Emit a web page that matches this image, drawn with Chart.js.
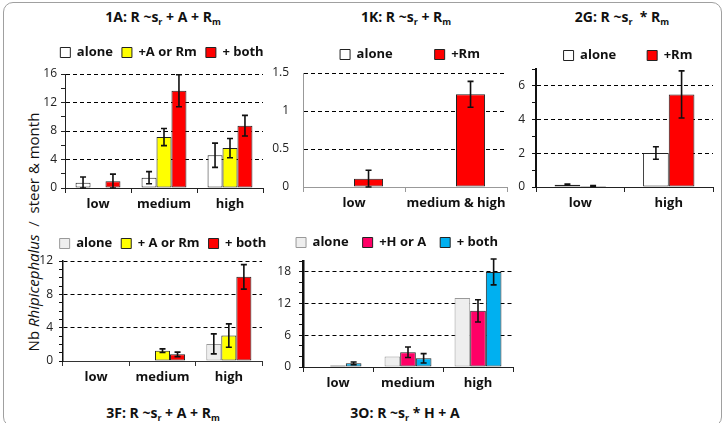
<!DOCTYPE html>
<html>
<head>
<meta charset="utf-8">
<script src="https://cdn.jsdelivr.net/npm/chart.js@4.4.1/dist/chart.umd.min.js"></script>
<style>
  body { margin: 0; background: #fff; }
  #wrap { position: relative; width: 726px; height: 423px; overflow: hidden; font-family: 'Open Sans', sans-serif; color: #111; }
  #frame { position: absolute; left: 3px; top: 2px; width: 719px; height: 425px; border: 1px solid #a0a0a0; border-radius: 10px; box-sizing: border-box; }
  canvas { position: absolute; }
  .ttl { position: absolute; width: 220px; font-weight: bold; font-size: 14px; line-height: 16px; text-align: center; white-space: nowrap; }
  .ttl sub { font-size: 9px; vertical-align: -3px; line-height: 0; }
  #ytitle { position: absolute; left: -117px; top: 222px; width: 300px; height: 20px; line-height: 20px; font-size: 15px; text-align: center; white-space: nowrap; transform: rotate(-90deg); }
</style>
</head>
<body>
<div id="wrap">
  <div id="frame"></div>
  <div id="ytitle">Nb <i>Rhipicephalus</i>&nbsp; / &nbsp;steer &amp; month</div>
  <div class="ttl" style="left:53px;top:9px">1A: R ~s<sub>r</sub> + A + R<sub>m</sub></div>
  <div class="ttl" style="left:296px;top:9px">1K: R ~s<sub>r</sub> + R<sub>m</sub></div>
  <div class="ttl" style="left:512px;top:9px">2G: R ~s<sub>r</sub>&nbsp; * R<sub>m</sub></div>
  <div class="ttl" style="left:53px;top:405px">3F: R ~s<sub>r</sub> + A + R<sub>m</sub></div>
  <div class="ttl" style="left:295px;top:405px">3O: R ~s<sub>r</sub> * H + A</div>
  <canvas id="c1A"></canvas>
  <canvas id="c1K"></canvas>
  <canvas id="c2G"></canvas>
  <canvas id="c3F"></canvas>
  <canvas id="c3O"></canvas>
</div>
<script>
// --- 1A ---
const cats1A = ['low', 'medium', 'high'];
const alone1A = [0.75, 1.45, 4.6];
const aloneErr1A = [0.8, 0.85, 1.7];
const plusA1A = [null, 7.15, 5.6];
const plusAErr1A = [null, 1.2, 1.35];
const both1A = [0.95, 13.65, 8.75];
const bothErr1A = [1.0, 2.25, 1.45];

// --- 1K ---
const cats1K = ['low', 'medium & high'];
const alone1K = [null, null];
const rm1K = [0.11, 1.22];
const rmErr1K = [0.11, 0.17];

// --- 2G ---
const cats2G = ['low', 'high'];
const alone2G = [0.14, 2.02];
const aloneErr2G = [0.04, 0.37];
const rm2G = [0.06, 5.49];
const rmErr2G = [0.03, 1.4];

// --- 3F ---
const cats3F = ['low', 'medium', 'high'];
const alone3F = [0.05, null, 2.05];
const aloneErr3F = [null, null, 1.2];
const plusA3F = [null, 1.24, 3.05];
const plusAErr3F = [null, 0.22, 1.4];
const both3F = [null, 0.8, 10.1];
const bothErr3F = [null, 0.27, 1.47];

// --- 3O ---
const cats3O = ['low', 'medium', 'high'];
const alone3O = [0.1, 2.0, 13.0];
const plusH3O = [0.3, 2.78, 10.6];
const plusHErr3O = [null, 1.0, 2.1];
const both3O = [0.7, 1.64, 17.94];
const bothErr3O = [0.25, 0.88, 2.45];

Chart.defaults.font.family = "'Open Sans', sans-serif";
Chart.defaults.color = '#222';

// error bars drawn from the y scale of each chart
const errorBars = {
  id: 'errorBars',
  afterDatasetsDraw(chart) {
    const ctx = chart.ctx;
    const y = chart.scales.y;
    chart.data.datasets.forEach((ds, di) => {
      if (!ds.errors) return;
      const meta = chart.getDatasetMeta(di);
      meta.data.forEach((bar, i) => {
        const v = ds.data[i], e = ds.errors[i];
        if (v == null || e == null) return;
        const top = y.getPixelForValue(v + e);
        const bot = y.getPixelForValue(Math.max(v - e, 0));
        ctx.save();
        ctx.strokeStyle = '#111';
        ctx.lineWidth = 1.6;
        ctx.beginPath();
        ctx.moveTo(bar.x, top); ctx.lineTo(bar.x, bot);
        ctx.moveTo(bar.x - 3, top); ctx.lineTo(bar.x + 3, top);
        ctx.moveTo(bar.x - 3, bot); ctx.lineTo(bar.x + 3, bot);
        ctx.stroke();
        ctx.restore();
      });
    });
  }
};

function drawPanel(id, pos, labels, sets, ax) {
  const f = 13;
  const yw = 45;
  // an empty right axis shifts the legend centre without moving the plot
  const wR = Math.max(yw + 2 * pos.legendX - pos.left - pos.right, 4);
  const L = pos.left - yw;
  const W = pos.right + wR - L;
  const T = Math.round(pos.legendY - pos.gap - f / 2);
  const H = pos.bottom + 30 - T;
  const legendH = f + pos.gap + 10;
  const extra = pos.top - (T + legendH);

  const cv = document.getElementById(id);
  cv.width = W; cv.height = H;
  cv.style.left = L + 'px';
  cv.style.top = T + 'px';

  const isMajor = v => Math.abs(v / ax.major - Math.round(v / ax.major)) < 1e-6;

  new Chart(cv, {
    type: 'bar',
    data: {
      labels: labels,
      datasets: sets.map(s => ({
        label: s.label,
        data: s.data,
        errors: s.errors,
        backgroundColor: s.color,
        borderColor: s.border || '#222',
        borderWidth: 1,
        borderSkipped: false,
        barPercentage: 1,
        categoryPercentage: pos.catPct
      }))
    },
    options: {
      responsive: false,
      animation: false,
      events: [],
      layout: { padding: 0 },
      plugins: {
        tooltip: { enabled: false },
        legend: {
          position: 'top',
          maxHeight: extra < 0 ? legendH + extra : undefined,
          labels: { boxWidth: 10, boxHeight: 10, padding: pos.gap, color: '#111', font: { size: f, weight: 'bold' } }
        },
        subtitle: {
          display: extra >= 1,
          text: '',
          weight: 500,
          font: { size: 1, lineHeight: 1 },
          padding: { top: 0, bottom: Math.max(extra - 1, 0) }
        }
      },
      scales: {
        x: {
          afterFit: s => { s.height = 30; },
          border: { color: ax.xColor, width: 1 },
          grid: { drawOnChartArea: false, drawTicks: true, tickLength: 5, tickColor: ax.xColor, color: ax.xColor },
          ticks: { font: { size: 13, weight: 'bold' }, color: '#111', padding: 3, maxRotation: 0, autoSkip: false }
        },
        y: {
          min: 0,
          max: ax.max,
          afterFit: s => { s.width = yw; },
          border: { color: ax.color, width: ax.width, dash: [4, 3] },
          grid: {
            drawTicks: ax.tickLen > 0,
            tickLength: ax.tickLen,
            tickColor: ax.color,
            tickWidth: 1,
            lineWidth: 1,
            color: c => (c.tick && c.tick.value > 0 && isMajor(c.tick.value)) ? '#000' : 'rgba(0,0,0,0)'
          },
          ticks: {
            stepSize: ax.step,
            autoSkip: false,
            padding: ax.pad,
            color: '#222',
            font: { size: 12 },
            callback: v => isMajor(v) ? String(v) : ''
          }
        },
        yPad: {
          type: 'linear',
          position: 'right',
          afterFit: s => { s.width = wR; },
          border: { display: false },
          grid: { display: false },
          ticks: { display: false }
        }
      }
    },
    plugins: [errorBars]
  });
}

drawPanel('c1A',
  { left: 65, right: 263, top: 74, bottom: 188, legendX: 162, legendY: 52, gap: 9, catPct: 0.68 },
  cats1A,
  [
    { label: 'alone', data: alone1A, errors: aloneErr1A, color: '#ffffff' },
    { label: '+A or Rm', data: plusA1A, errors: plusAErr1A, color: '#ffff00' },
    { label: '+ both', data: both1A, errors: bothErr1A, color: '#ff0000' }
  ],
  { max: 16, step: 2, major: 4, color: '#222', width: 1, tickLen: 4, pad: 4, xColor: '#222' });

drawPanel('c1K',
  { left: 303, right: 507, top: 73, bottom: 187, legendX: 410, legendY: 54, gap: 42, catPct: 0.57 },
  cats1K,
  [
    { label: 'alone', data: alone1K, color: '#ffffff' },
    { label: '+Rm', data: rm1K, errors: rmErr1K, color: '#ff0000' }
  ],
  { max: 1.5, step: 0.5, major: 0.5, color: '#999', width: 1, tickLen: 0, pad: 14, xColor: '#999' });

drawPanel('c2G',
  { left: 536, right: 713, top: 69, bottom: 187, legendX: 628, legendY: 55, gap: 31, catPct: 0.58 },
  cats2G,
  [
    { label: 'alone', data: alone2G, errors: aloneErr2G, color: '#ffffff' },
    { label: '+Rm', data: rm2G, errors: rmErr2G, color: '#ff0000' }
  ],
  { max: 7, step: 1, major: 2, color: '#111', width: 2, tickLen: 4, pad: 7, xColor: '#222' });

drawPanel('c3F',
  { left: 63, right: 262, top: 261, bottom: 361, legendX: 163, legendY: 243, gap: 9, catPct: 0.68 },
  cats3F,
  [
    { label: 'alone', data: alone3F, errors: aloneErr3F, color: '#eeeeee', border: '#999' },
    { label: '+ A or Rm', data: plusA3F, errors: plusAErr3F, color: '#ffff00' },
    { label: '+ both', data: both3F, errors: bothErr3F, color: '#ff0000' }
  ],
  { max: 12, step: 1, major: 4, color: '#111', width: 1.5, tickLen: 4, pad: 6, xColor: '#333' });

drawPanel('c3O',
  { left: 303, right: 513, top: 261, bottom: 367, legendX: 397, legendY: 242, gap: 14, catPct: 0.67 },
  cats3O,
  [
    { label: 'alone', data: alone3O, color: '#eeeeee', border: '#999' },
    { label: '+H or A', data: plusH3O, errors: plusHErr3O, color: '#ff0066' },
    { label: '+ both', data: both3O, errors: bothErr3O, color: '#00b0f0' }
  ],
  { max: 20, step: 2, major: 6, color: '#111', width: 2.5, tickLen: 4, pad: 8, xColor: '#222' });
</script>
</body>
</html>
